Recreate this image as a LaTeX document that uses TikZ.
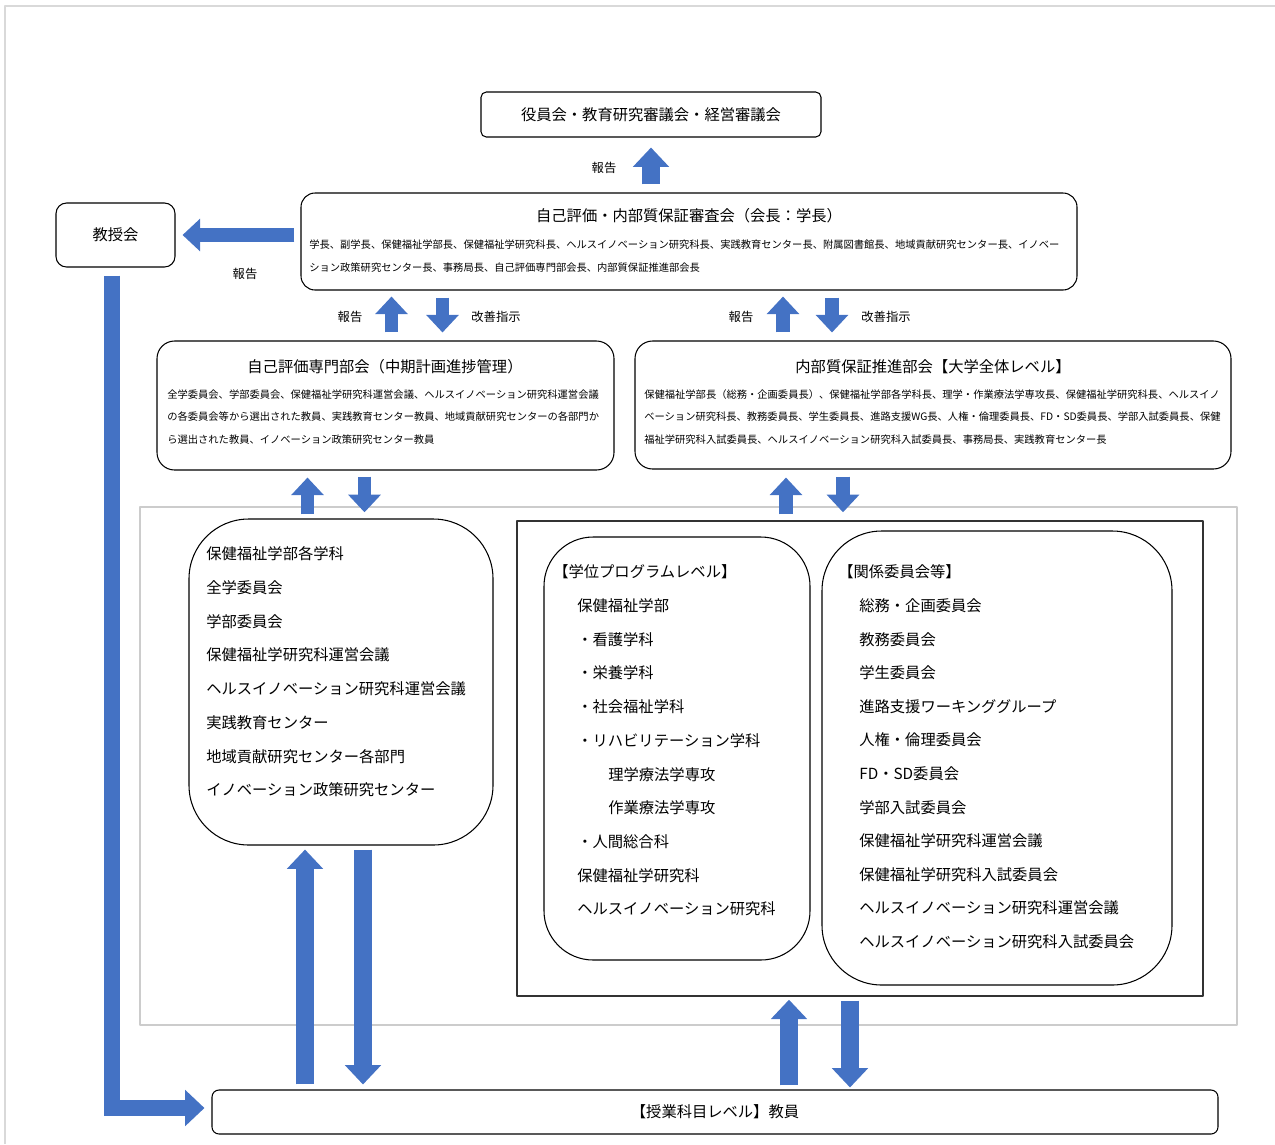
\documentclass[tikz,border=0pt]{standalone}
\usepackage{fontspec}
\setmainfont{Noto Sans CJK JP}
\usetikzlibrary{arrows.meta,fit,calc}
\definecolor{arrblue}{HTML}{4472C4}
\definecolor{framegray}{HTML}{D9D9D9}
\tikzset{
  box/.style={draw,line width=0.6pt,inner sep=0pt},
  ttl/.style={font=\fontsize{8.7}{10}\selectfont},
  sm/.style={font=\fontsize{5.85}{7}\selectfont,anchor=west,inner sep=0pt},
  itm/.style={font=\fontsize{8.7}{10}\selectfont,anchor=west,inner sep=0pt},
  lbl/.style={font=\fontsize{7}{8}\selectfont,inner sep=0pt},
  blk/.style={draw=arrblue,line width=10pt,-{Triangle[width=20pt,length=11pt]}},
  blks/.style={draw=arrblue,line width=7.5pt,-{Triangle[width=18pt,length=10pt]}},
}
\begin{document}
\begin{tikzpicture}[x=0.02cm,y=-0.02cm,line join=round]
\useasboundingbox (0,0) rectangle (1275,1144);
\draw[framegray,line width=1.2pt] (5,1144) -- (5,6) -- (1275,6);
\node[box,draw=black!20,line width=0.8pt,fit={(140,507) (1237,1025)}] (grp) {};
\node[box,draw=black!80,line width=0.8pt,fit={(517,521) (1203,996)}] (comm) {};
\node[box,rounded corners=3pt,fit={(481,92) (821,137)}] (yakuin) {};
\node[ttl] (yakuinT) at (yakuin.center) {役員会・教育研究審議会・経営審議会};
\node[box,rounded corners=8pt,fit={(301,193) (1077,290)}] (sinsa) {};
\node[ttl] (sinsaT) at (689,216) {自己評価・内部質保証審査会（会長：学長）};
\node[sm] (sinsa1) at (309,245) {学長、副学長、保健福祉学部長、保健福祉学研究科長、ヘルスイノベーション研究科長、実践教育センター長、附属図書館長、地域貢献研究センター長、イノベー};
\node[sm] (sinsa2) at (309,268) {ション政策研究センター長、事務局長、自己評価専門部会長、内部質保証推進部会長};
\node[box,rounded corners=6pt,fit={(56,203) (175,267)}] (kyoju) {};
\node[ttl] (kyojuT) at (kyoju.center) {教授会};
\node[box,rounded corners=10pt,fit={(157,341) (614,470)}] (bukai1) {};
\node[ttl] (bukai1T) at (385,367) {自己評価専門部会（中期計画進捗管理）};
\node[sm] (bukai1a) at (167,395) {全学委員会、学部委員会、保健福祉学研究科運営会議、ヘルスイノベーション研究科運営会議};
\node[sm] (bukai1b) at (167,417) {の各委員会等から選出された教員、実践教育センター教員、地域貢献研究センターの各部門か};
\node[sm] (bukai1c) at (167,440) {ら選出された教員、イノベーション政策研究センター教員};
\node[box,rounded corners=10pt,fit={(635,341) (1231,469)}] (bukai2) {};
\node[ttl] (bukai2T) at (933,367) {内部質保証推進部会【大学全体レベル】};
\node[sm] (bukai2a) at (644,395) {保健福祉学部長（総務・企画委員長）、保健福祉学部各学科長、理学・作業療法学専攻長、保健福祉学研究科長、ヘルスイノ};
\node[sm] (bukai2b) at (644,417) {ベーション研究科長、教務委員長、学生委員長、進路支援WG長、人権・倫理委員長、FD・SD委員長、学部入試委員長、保健};
\node[sm] (bukai2c) at (644,440) {福祉学研究科入試委員長、ヘルスイノベーション研究科入試委員長、事務局長、実践教育センター長};
\node[box,rounded corners=34pt,fit={(189,519) (493,845)}] (listL) {};
\foreach \t [count=\i] in {保健福祉学部各学科,全学委員会,学部委員会,保健福祉学研究科運営会議,ヘルスイノベーション研究科運営会議,実践教育センター,地域貢献研究センター各部門,イノベーション政策研究センター}
  \node[itm] (l\i) at (206,{554+33.7*(\i-1)}) {\t};
\node[box,rounded corners=28pt,fit={(544,537) (810,960)}] (gakui) {};
\foreach \x/\t [count=\i] in {553/【学位プログラムレベル】,577/保健福祉学部,577/・看護学科,577/・栄養学科,577/・社会福祉学科,577/・リハビリテーション学科,608/理学療法学専攻,608/作業療法学専攻,577/・人間総合科,577/保健福祉学研究科,577/ヘルスイノベーション研究科}
  \node[itm] (g\i) at (\x,{572+33.7*(\i-1)}) {\t};
\node[box,rounded corners=34pt,fit={(822,531) (1172,985)}] (kankei) {};
\foreach \x/\t [count=\i] in {838/【関係委員会等】,859/総務・企画委員会,859/教務委員会,859/学生委員会,859/進路支援ワーキンググループ,859/人権・倫理委員会,859/FD・SD委員会,859/学部入試委員会,859/保健福祉学研究科運営会議,859/保健福祉学研究科入試委員会,859/ヘルスイノベーション研究科運営会議,859/ヘルスイノベーション研究科入試委員会}
  \node[itm] (k\i) at (\x,{572+33.6*(\i-1)}) {\t};
\node[box,rounded corners=4pt,fit={(212,1090) (1218,1134)}] (kyoin) {};
\node[ttl] (kyoinT) at (kyoin.center) {【授業科目レベル】教員};
\draw[blk] ($(yakuin.south |- sinsa.north)+(0,-8)$) -- ($(yakuin.south)+(0,10)$);
\draw[blks] ($(sinsa.west |- kyoju.east)+(-6,0)$) -- ($(kyoju.east)+(7,0)$);
\draw[blks] ($(bukai1.north)+(6,-8)$) -- ($(bukai1.north |- sinsa.south)+(6,6)$);
\draw[blks] ($(bukai1.north |- sinsa.south)+(57,7)$) -- ($(bukai1.north)+(57,-8)$);
\draw[blks] ($(bukai2.north)+(-150,-8)$) -- ($(bukai2.north |- sinsa.south)+(-150,6)$);
\draw[blks] ($(bukai2.north |- sinsa.south)+(-101,7)$) -- ($(bukai2.north)+(-101,-8)$);
\draw[blks] ($(bukai1.south |- grp.north)+(-78,8)$) -- ($(bukai1.south)+(-78,7)$);
\draw[blks] ($(bukai1.south)+(-21,6)$) -- ($(bukai1.south |- grp.north)+(-21,6)$);
\draw[blks] ($(bukai2.south |- grp.north)+(-147,8)$) -- ($(bukai2.south)+(-147,8)$);
\draw[blks] ($(bukai2.south)+(-90,7)$) -- ($(bukai2.south |- grp.north)+(-90,6)$);
\draw[blk] ($(listL.south |- kyoin.north)+(-36,-5)$) -- ($(listL.south)+(-36,4)$);
\draw[blk] ($(listL.south)+(22,4)$) -- ($(listL.south |- kyoin.north)+(22,-5)$);
\draw[blk] ($(comm.south |- kyoin.north)+(-71,-4)$) -- ($(comm.south)+(-71,3)$);
\draw[blk] ($(comm.south)+(-10,4)$) -- ($(comm.south |- kyoin.north)+(-10,-2)$);
\draw[blk,line width=9pt,line join=miter] ($(kyoju.south)+(-3.5,8)$) |- ($(kyoin.west)+(-7,-4)$);
\node[lbl] (rep0) at (604,168) {報告};
\node[lbl] (rep1) at (245,274) {報告};
\node[lbl] (rep2) at (350,317) {報告};
\node[lbl] (imp2) at (496,317) {改善指示};
\node[lbl] (rep3) at (741,317) {報告};
\node[lbl] (imp3) at (886,317) {改善指示};
\end{tikzpicture}
\end{document}
